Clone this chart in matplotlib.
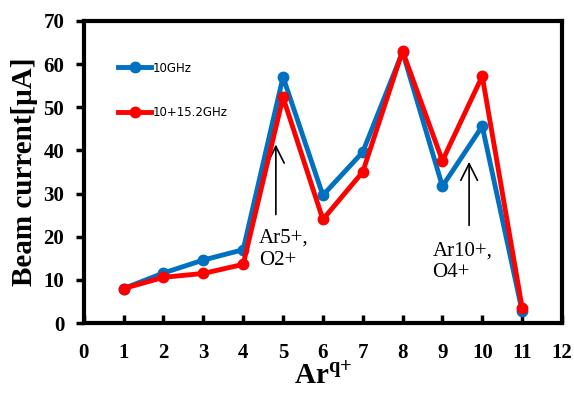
import matplotlib.pyplot as plt
from matplotlib.ticker import MultipleLocator

# Ar charge states and beam currents
charge_state = [1, 2, 3, 4, 5, 6, 7, 8, 9, 10, 11]
current_10ghz = [8.0, 11.6, 14.6, 17.0, 57.0, 29.6, 39.6, 62.8, 31.7, 45.6, 2.8]
current_two_freq = [8.0, 10.6, 11.5, 13.6, 52.3, 24.0, 35.0, 63.0, 37.6, 57.2, 3.6]

labels = ['10GHz', '10+15.2GHz']
notes = ['Ar5+,\nO2+', 'Ar10+,\nO4+']
note_tip = [(4.82, 42.0), (9.67, 38.0)]
note_tail = [(4.82, 24.5), (9.67, 22.0)]
note_text = [(4.40, 21.8), (8.75, 19.0)]

serif = 'Liberation Serif'
plt.rcParams['mathtext.fontset'] = 'custom'
plt.rcParams['mathtext.rm'] = 'Liberation Serif:bold'

fig = plt.figure(figsize=(5.74, 3.94), dpi=100)
ax = fig.add_axes([0.146, 0.180, 0.833, 0.767])

ax.plot(charge_state, current_10ghz, color='#0070C0', lw=3.5, marker='o',
        ms=7.5, label=labels[0], zorder=3)
ax.plot(charge_state, current_two_freq, color='#FF0000', lw=3.5, marker='o',
        ms=7.5, label=labels[1], zorder=4)

# arrows pointing at the peaks
for txt, tip, tail, pos in zip(notes, note_tip, note_tail, note_text):
    ax.annotate('', xy=tip, xytext=tail,
                arrowprops=dict(arrowstyle='->', color='black', lw=1.2,
                                mutation_scale=30))
    ax.text(pos[0], pos[1], txt, family=serif, fontsize=15, va='top',
            ha='left', linespacing=1.2)

ax.set_xlim(0, 12)
ax.set_ylim(0, 70)
ax.xaxis.set_major_locator(MultipleLocator(1))
ax.yaxis.set_major_locator(MultipleLocator(10))

for s in ax.spines.values():
    s.set_linewidth(3)

ax.tick_params(axis='x', direction='in', length=6, width=2.5, pad=14)
ax.tick_params(axis='y', direction='out', length=6, width=2.5, pad=8)
for lab in ax.get_xticklabels() + ax.get_yticklabels():
    lab.set_family(serif)
    lab.set_fontweight('bold')
    lab.set_fontsize(15)

ax.set_xlabel('Ar$^{\\mathrm{q{+}}}$', family=serif, fontweight='bold',
              fontsize=21, labelpad=0)
ax.set_ylabel('Beam current[μA]', family=serif, fontweight='bold',
              fontsize=21, labelpad=4)

leg = ax.legend(loc='upper left', bbox_to_anchor=(0.06, 0.885), frameon=False,
                fontsize=8.5, handlelength=2.8, handletextpad=0.1,
                labelspacing=2.7, borderpad=0)

fig.savefig('out.png', dpi=100)
